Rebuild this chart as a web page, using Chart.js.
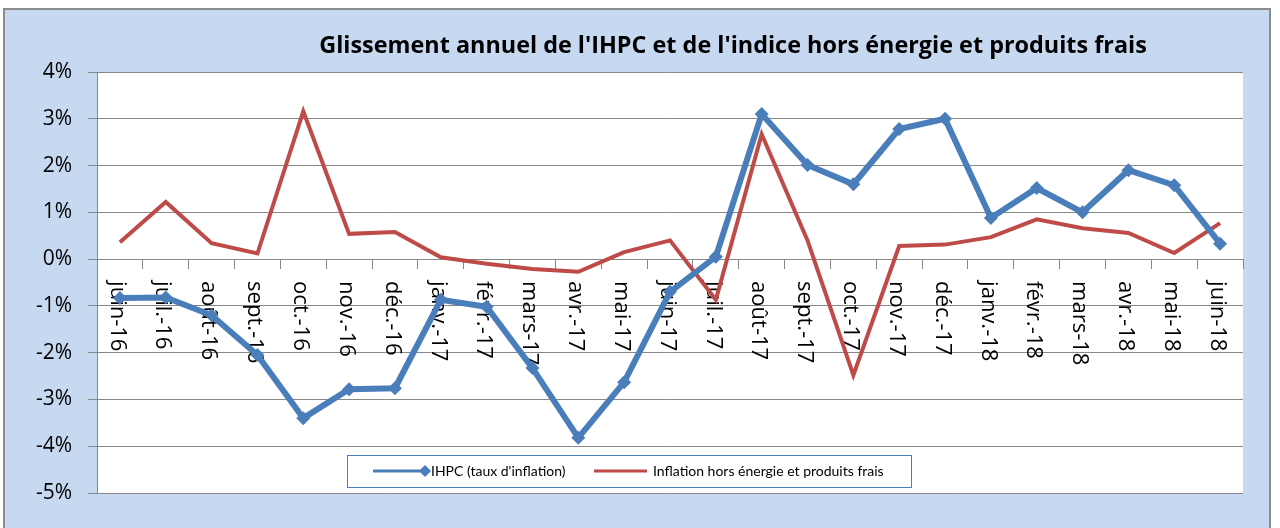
<!DOCTYPE html>
<html>
<head>
<meta charset="utf-8">
<script src="https://cdn.jsdelivr.net/npm/chart.js@4"></script>
<style>
  html, body { margin: 0; padding: 0; background: #fff; }
  #wrap { width: 1280px; height: 528px; }
</style>
</head>
<body>
<div id="wrap"><canvas id="ihpcChart" width="1280" height="528"></canvas></div>
<script>
// Mois (axe des catégories)
const categories = [
  'juin-16', 'juil.-16', 'août-16', 'sept.-16', 'oct.-16', 'nov.-16', 'déc.-16',
  'janv.-17', 'févr.-17', 'mars-17', 'avr.-17', 'mai-17', 'juin-17', 'juil.-17',
  'août-17', 'sept.-17', 'oct.-17', 'nov.-17', 'déc.-17', 'janv.-18', 'févr.-18',
  'mars-18', 'avr.-18', 'mai-18', 'juin-18'
];

// IHPC (taux d'inflation), en %
const ihpc = [
  -0.83, -0.82, -1.2, -2.05, -3.4, -2.78, -2.76,
  -0.87, -1.02, -2.33, -3.82, -2.63, -0.7, 0.05,
  3.1, 2.01, 1.6, 2.78, 3.0, 0.88, 1.52,
  1.0, 1.9, 1.58, 0.33
];

// Inflation hors énergie et produits frais, en %
const horsEnergie = [
  0.36, 1.22, 0.34, 0.12, 3.16, 0.54, 0.58,
  0.04, -0.1, -0.21, -0.27, 0.15, 0.4, -0.87,
  2.67, 0.4, -2.48, 0.28, 0.31, 0.47, 0.85,
  0.66, 0.56, 0.13, 0.77
];

// Axe vertical
const yMin = -5;
const yMax = 4;
const yStep = 1;

const titleText = "Glissement annuel de l'IHPC et de l'indice hors énergie et produits frais";

const FONT = '"Open Sans", Lato, sans-serif';
const BLUE = '#4A7EBB';
const RED = '#BE4B48';
const GRID = '#878787';

// Fond : cadre bleu clair + zone de tracé blanche
const framePlugin = {
  id: 'frame',
  beforeDraw(chart) {
    const ctx = chart.ctx;
    const a = chart.chartArea;
    ctx.save();
    ctx.fillStyle = '#ffffff';
    ctx.fillRect(0, 0, chart.width, chart.height);
    ctx.fillStyle = '#C6D9F1';
    ctx.fillRect(4, 9, 1266, chart.height);
    ctx.strokeStyle = '#8C8C8C';
    ctx.lineWidth = 2;
    ctx.strokeRect(4, 9, 1266, chart.height + 10);
    ctx.fillStyle = '#ffffff';
    ctx.fillRect(a.left, a.top, a.right - a.left, a.bottom - a.top);
    ctx.restore();
  }
};

// Libellés des mois, tournés de 90° sous l'axe à 0 %
const monthLabels = {
  id: 'monthLabels',
  beforeDatasetsDraw(chart) {
    const ctx = chart.ctx;
    const xs = chart.scales.x;
    const y0 = chart.scales.y.getPixelForValue(0);
    ctx.save();
    ctx.font = '22px ' + FONT;
    ctx.fillStyle = '#000';
    ctx.textAlign = 'left';
    ctx.textBaseline = 'middle';
    categories.forEach((lab, i) => {
      const x = xs.getPixelForValue(i);
      ctx.save();
      ctx.translate(x - 3, y0 + 22);
      ctx.rotate(Math.PI / 2);
      ctx.fillText(lab, 0, 0);
      ctx.restore();
    });
    ctx.restore();
  }
};

// Titre et légende
const titleLegend = {
  id: 'titleLegend',
  afterDraw(chart) {
    const ctx = chart.ctx;
    ctx.save();
    // taille de police ajustée pour que le titre couvre ~828 px
    ctx.font = 'bold 20px ' + FONT;
    let size = 20 * 828 / ctx.measureText(titleText).width;
    size = Math.min(24, Math.max(18, size));
    ctx.font = 'bold ' + size.toFixed(1) + 'px ' + FONT;
    ctx.fillStyle = '#000';
    ctx.textAlign = 'center';
    ctx.textBaseline = 'middle';
    ctx.fillText(titleText, 733, 46);

    // légende
    ctx.fillStyle = '#fff';
    ctx.fillRect(347, 455, 564, 32);
    ctx.strokeStyle = '#4A7EBB';
    ctx.lineWidth = 1;
    ctx.strokeRect(347.5, 455.5, 564, 32);

    const ly = 471;
    const ds = chart.data.datasets;
    ctx.lineWidth = 3;
    ctx.strokeStyle = ds[0].borderColor;
    ctx.beginPath(); ctx.moveTo(373, ly); ctx.lineTo(425, ly); ctx.stroke();
    ctx.fillStyle = ds[0].borderColor;
    ctx.beginPath();
    ctx.moveTo(425, ly - 6); ctx.lineTo(431, ly); ctx.lineTo(425, ly + 6); ctx.lineTo(419, ly);
    ctx.closePath(); ctx.fill();
    ctx.strokeStyle = ds[1].borderColor;
    ctx.beginPath(); ctx.moveTo(594, ly); ctx.lineTo(647, ly); ctx.stroke();

    ctx.font = '14px Lato, sans-serif';
    ctx.fillStyle = '#000';
    ctx.textAlign = 'left';
    ctx.fillText(ds[0].label, 431, ly);
    ctx.fillText(ds[1].label, 653, ly);
    ctx.restore();
  }
};

const ctx = document.getElementById('ihpcChart').getContext('2d');
const chart = new Chart(ctx, {
  type: 'line',
  data: {
    labels: categories,
    datasets: [
      {
        label: "IHPC (taux d'inflation)",
        data: ihpc,
        borderColor: BLUE,
        backgroundColor: BLUE,
        borderWidth: 6,
        pointStyle: 'rectRot',
        pointRadius: 7,
        pointBorderWidth: 0,
        tension: 0
      },
      {
        label: 'Inflation hors énergie et produits frais',
        data: horsEnergie,
        borderColor: RED,
        backgroundColor: RED,
        borderWidth: 4,
        pointRadius: 0,
        tension: 0
      }
    ]
  },
  options: {
    responsive: false,
    animation: false,
    layout: { padding: { left: 0, top: 72, right: 37, bottom: 35 } },
    plugins: {
      legend: { display: false },
      title: { display: false },
      tooltip: { enabled: false }
    },
    scales: {
      x: {
        type: 'category',
        position: { y: 0 },
        offset: true,
        ticks: { display: false },
        grid: {
          offset: true,
          drawOnChartArea: false,
          drawTicks: true,
          tickLength: 9,
          color: GRID
        },
        border: { color: GRID, width: 1 }
      },
      y: {
        min: yMin,
        max: yMax,
        ticks: {
          stepSize: yStep,
          padding: 16,
          color: '#000',
          font: { family: FONT, size: 21 },
          callback: v => v + '%'
        },
        grid: { color: GRID, tickLength: 9, lineWidth: 1 },
        border: { color: GRID, width: 1 },
        afterFit(scale) { scale.width = 97; }
      }
    }
  },
  plugins: [framePlugin, monthLabels, titleLegend]
});
</script>
</body>
</html>
